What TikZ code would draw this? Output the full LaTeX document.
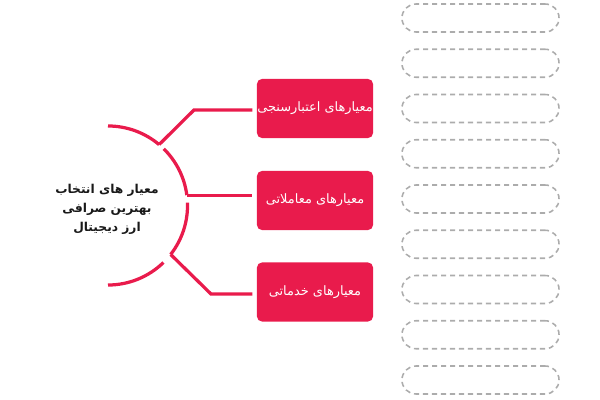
\documentclass[tikz,border=0pt]{standalone}
\usepackage{fontspec}
\newfontfamily\farsi[Script=Arabic]{DejaVu Sans}
\TeXXeTstate=1
\definecolor{crimson}{RGB}{233,27,76}
\definecolor{slotgray}{RGB}{172,172,172}
\tikzset{every path/.style={semithick},
  critbox/.style={fill=crimson, rounded corners=3.5pt, minimum width=2.9cm,
    minimum height=1.475cm, inner sep=0pt, text=white,
    font=\farsi\fontsize{9.2}{11}\selectfont},
  slot/.style={draw=slotgray, line width=1.1pt, dash pattern=on 3.6pt off 2.8pt,
    rounded corners=9.9pt, minimum width=3.925cm, minimum height=0.7cm},
  rim/.style={draw=crimson, line width=2.3pt},
  link/.style={draw=crimson, line width=2.3pt, shorten >=3pt}}

\begin{document}
\begin{tikzpicture}[x=0.025cm, y=-0.025cm]
    \useasboundingbox (0,0) rectangle (600,400);
    \coordinate (hub) at (108,205.5);

    \node[align=center, text=black!90, font=\farsi\bfseries\fontsize{8.7}{13.5}\selectfont]
      (title) at (107,209) {\beginR معیار های انتخاب\endR \\ \beginR بهترین صرافی\endR \\ \beginR ارز دیجیتال\endR};

    \node[critbox] (crit1) at (315,108.5) {\beginR معیارهای اعتبارسنجی\endR};
    \node[critbox] (crit2) at (315,200.5) {\beginR معیارهای معاملاتی\endR};
    \node[critbox] (crit3) at (315,292) {\beginR معیارهای خدماتی\endR};

    \foreach \i in {0,...,8}
      \node[slot] (slot\i) at (480.5,{18+45.25*\i}) {};

    \draw[rim] (hub) ++(90:1.9875cm) arc[start angle=90, end angle=50, radius=1.9875cm] coordinate (tap1);
    \draw[rim] (hub) ++(45.5:1.9875cm) arc[start angle=45.5, end angle=7.5, radius=1.9875cm] coordinate (tap2);
    \draw[rim] (hub) ++(2:1.9875cm) arc[start angle=2, end angle=-38, radius=1.9875cm] coordinate (tap3);
    \draw[rim] (hub) ++(-45.8:1.9875cm) arc[start angle=-45.8, end angle=-90, radius=1.9875cm];

    \coordinate (bend1) at (194,110);
    \coordinate (bend3) at (211,294);
    \draw[link] (tap1) -- (bend1) -- (bend1 -| crit1.west);
    \draw[link] (tap2) -- (tap2 -| crit2.west);
    \draw[link] (tap3) -- (bend3) -- (bend3 -| crit3.west);
  \end{tikzpicture}
\end{document}
